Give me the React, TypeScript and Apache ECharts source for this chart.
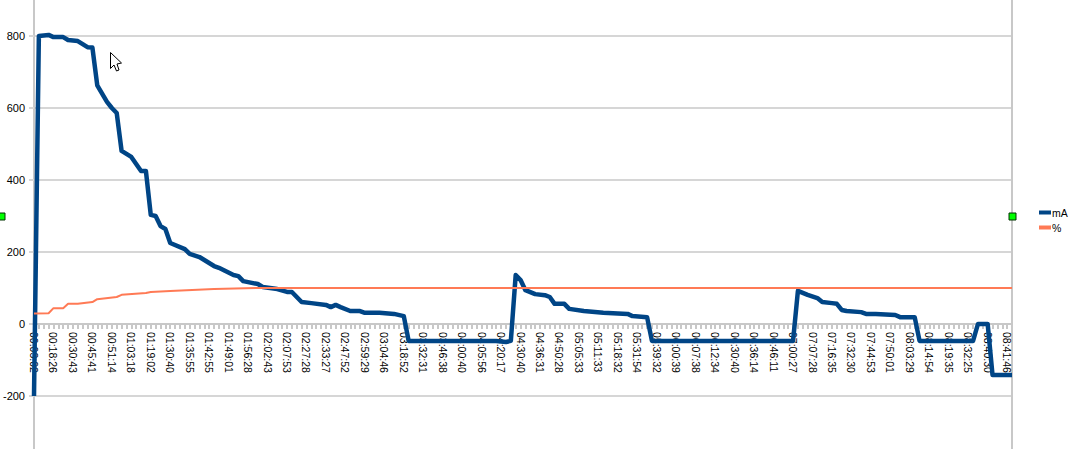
import React, { useEffect, useRef } from "react";
import * as echarts from "echarts";

const tickLabels = [
  "00:03:02", "00:18:26", "00:30:43", "00:45:41", "00:51:14", "01:03:18", "01:19:02", "01:30:40", "01:35:55", "01:42:55",
  "01:49:01", "01:56:28", "02:02:43", "02:07:53", "02:27:28", "02:33:27", "02:47:52", "02:59:29", "03:04:46", "03:18:52",
  "03:32:31", "03:46:38", "04:00:40", "04:05:56", "04:20:17", "04:30:40", "04:36:31", "04:50:28", "05:05:33", "05:11:33",
  "05:18:32", "05:31:54", "05:39:32", "06:00:39", "06:07:38", "06:12:34", "06:30:40", "06:36:14", "06:46:11", "07:00:27",
  "07:07:28", "07:16:35", "07:32:30", "07:44:53", "07:50:01", "08:03:29", "08:14:54", "08:19:35", "08:32:25", "08:40:30",
  "08:41:46",
];
const categoryCount = 202;
const labelEvery = 4;

const maIndex = [
  0, 1, 3, 4, 6, 7, 9, 11, 12, 13, 15, 16, 17, 18, 20, 22, 23, 24, 25, 26, 27, 28, 31, 32, 34, 37, 38, 41, 42, 43, 46, 47, 50,
  52, 53, 55, 57, 60, 61, 62, 63, 65, 67, 68, 71, 74, 76, 77, 95, 97, 98, 99, 100, 101, 103, 105, 106, 107, 109, 110, 113,
  117, 122, 123, 126, 127, 156, 157, 159, 161, 162, 164, 165, 166, 167, 170, 171, 173, 177, 178, 181, 182, 193, 194, 196, 197, 201,
];
const maValues = [
  -200, 800, 803, 797, 797, 789, 786, 769, 768, 663, 617, 600, 586, 481, 464, 425, 425, 303, 300, 272, 264, 225, 208, 195, 186, 161, 156, 136, 133, 119, 111, 103, 97,
  89, 89, 61, 58, 53, 47, 53, 47, 36, 36, 31, 31, 28, 22, -47, -47, -50, -47, 136, 122, 94, 83, 80, 75, 56, 56, 42, 36,
  31, 28, 22, 19, -47, -47, 92, 81, 72, 61, 58, 56, 39, 36, 33, 28, 28, 25, 19, 19, -47, -47, 0, 0, -142, -142,
];
const pctIndex = [0, 3, 4, 6, 7, 9, 12, 13, 17, 18, 23, 24, 28, 37, 46, 201];
const pctValues = [29, 30, 44, 44, 56, 56, 61, 69, 75, 81, 86, 89, 92, 97, 100, 100];

const yTickInterval = 200;
const seriesNames = ["mA", "%"];

const categories = Array.from({ length: categoryCount }, (_, i) =>
  i % labelEvery === 0 ? tickLabels[i / labelEvery] ?? "" : ""
);
const pairs = (idx: number[], vals: number[]) => idx.map((x, i) => [x, vals[i]]);

const FONT = "Liberation Sans";
const GRID_C = "#d6d6d6";
const AXIS_C = "#c8c8c8";

export default function App() {
  const ref = useRef<HTMLDivElement>(null);
  useEffect(() => {
    const chart = echarts.init(ref.current!, undefined, { renderer: "svg" });
    chart.setOption({
      animation: false,
      backgroundColor: "#ffffff",
      textStyle: { fontFamily: FONT },
      grid: { left: 34, top: 0, width: 978, height: 468, outerBoundsMode: "none", containLabel: false },
      legend: {
        orient: "vertical",
        left: 1034,
        top: 202,
        itemWidth: 12,
        itemHeight: 4,
        itemGap: 4,
        icon: "rect",
        textStyle: { fontFamily: FONT, fontSize: 10.5, color: "#000", padding: [0, 0, 0, -4] },
        data: seriesNames,
      },
      xAxis: {
        type: "category",
        boundaryGap: false,
        data: categories,
        position: "bottom",
        offset: -144,
        axisLine: { onZero: false, lineStyle: { color: AXIS_C, width: 2 } },
        axisTick: { show: true, interval: 0, length: 5, lineStyle: { color: AXIS_C, width: 2 } },
        axisLabel: {
          interval: labelEvery - 1,
          rotate: -90,
          margin: 8,
          color: "#000",
          fontFamily: FONT,
          fontSize: 10.5,
          hideOverlap: false,
        },
        splitLine: { show: false },
      },
      yAxis: [
        {
          type: "value",
          min: -400,
          max: 900,
          interval: yTickInterval,
          axisLine: { show: true, lineStyle: { color: AXIS_C, width: 2 } },
          axisTick: { show: true, length: 5, lineStyle: { color: GRID_C, width: 2 } },
          axisLabel: {
            showMinLabel: false,
            showMaxLabel: false,
            color: "#000",
            fontFamily: FONT,
            fontSize: 11,
            margin: 9,
          },
          splitLine: { show: true, showMaxLine: false, showMinLine: false, lineStyle: { color: GRID_C, width: 2 } },
        },
        {
          type: "value",
          position: "right",
          min: -400,
          max: 900,
          interval: yTickInterval,
          axisLine: { show: true, lineStyle: { color: AXIS_C, width: 2 } },
          axisTick: { show: false },
          axisLabel: { show: false },
          splitLine: { show: false },
        },
      ],
      series: [
        {
          name: seriesNames[0],
          type: "line",
          data: pairs(maIndex, maValues),
          showSymbol: false,
          symbol: "none",
          z: 3,
          lineStyle: { color: "#004586", width: 4.5, join: "round" },
          itemStyle: { color: "#004586" },
        },
        {
          name: seriesNames[1],
          type: "line",
          data: pairs(pctIndex, pctValues),
          showSymbol: false,
          symbol: "none",
          z: 4,
          lineStyle: { color: "#ff7a55", width: 2 },
          itemStyle: { color: "#ff7a55" },
        },
      ],
      graphic: [
        { type: "rect", shape: { x: -2, y: 213, width: 7, height: 7 }, style: { fill: "#00ff00", stroke: "#003300", lineWidth: 1 }, z: 10 },
        { type: "rect", shape: { x: 1009, y: 213, width: 7, height: 7 }, style: { fill: "#00ff00", stroke: "#003300", lineWidth: 1 }, z: 10 },
        {
          type: "polygon",
          shape: { points: [[110.5, 52.5], [110.5, 68.5], [114, 65], [116.5, 71], [119, 70], [117, 64], [121.5, 63]] },
          style: { fill: "#ffffff", stroke: "#000000", lineWidth: 1 },
          z: 10,
        },
      ],
    });
    return () => chart.dispose();
  }, []);
  return (
    <div style={{ position: "fixed", left: 0, top: 0, width: 1073, height: 449, overflow: "hidden", background: "#fff" }}>
      <div ref={ref} style={{ width: 1073, height: 500 }} />
    </div>
  );
}
